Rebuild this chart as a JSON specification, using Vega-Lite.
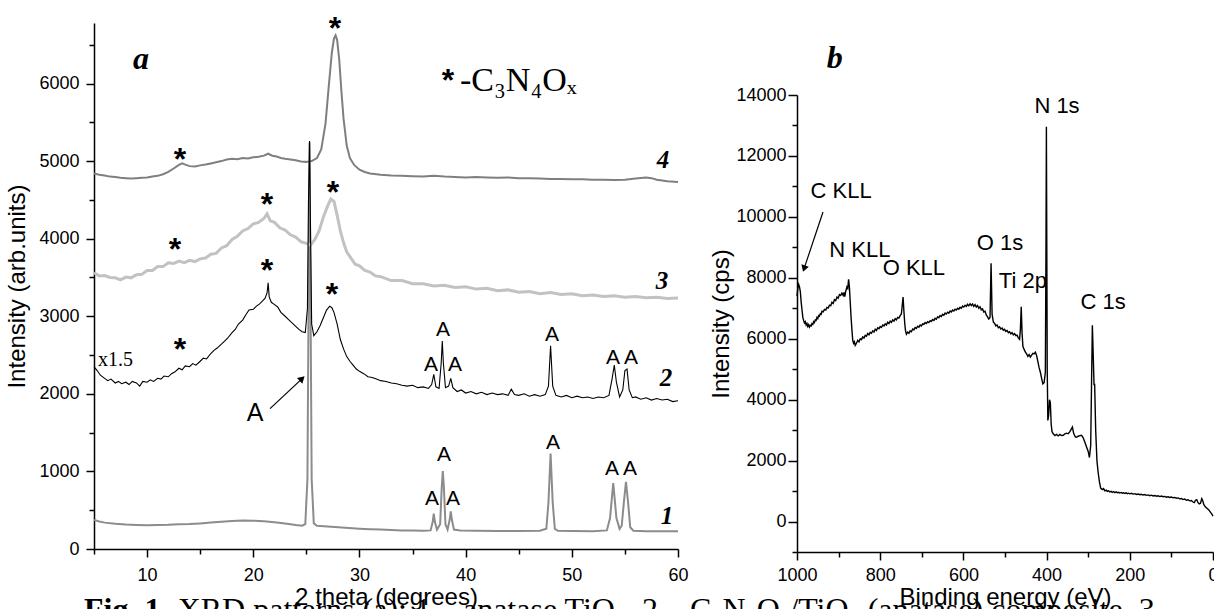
{
"$schema": "https://vega.github.io/schema/vega-lite/v6.json",
"background": "white",
"padding": {"left": 5, "top": 13, "right": 0, "bottom": 0},
"config": {
 "view": {"stroke": null},
 "axis": {"grid": false, "domainColor": "#000", "domainWidth": 1.5, "tickColor": "#000", "tickWidth": 1.5, "labelColor": "#000", "labelFont": "Liberation Sans", "labelFontSize": 18, "titleFont": "Liberation Sans", "titleFontSize": 24, "titleFontWeight": "normal", "titleColor": "#000", "labelFlush": false, "labelOverlap": false, "labelBound": false},
 "text": {"color": "#000"}
},
"datasets": {
 "c1": [{"x":5,"y":375},{"x":5.5,"y":355},{"x":6,"y":340},{"x":7,"y":325},{"x":8,"y":315},{"x":9,"y":310},{"x":10,"y":305},{"x":11,"y":310},{"x":12,"y":312},{"x":13,"y":318},{"x":14,"y":322},{"x":15,"y":330},{"x":16,"y":340},{"x":17,"y":352},{"x":18,"y":362},{"x":19,"y":368},{"x":20,"y":365},{"x":21,"y":358},{"x":22,"y":345},{"x":23,"y":330},{"x":24,"y":310},{"x":24.6,"y":300},{"x":24.9,"y":320},{"x":25.1,"y":900},{"x":25.2,"y":3000},{"x":25.3,"y":5240},{"x":25.4,"y":3000},{"x":25.5,"y":900},{"x":25.7,"y":330},{"x":26,"y":300},{"x":27,"y":290},{"x":28,"y":280},{"x":29,"y":270},{"x":30,"y":262},{"x":31,"y":255},{"x":32,"y":250},{"x":33,"y":245},{"x":34,"y":240},{"x":35,"y":238},{"x":36,"y":235},{"x":36.7,"y":240},{"x":36.9,"y":350},{"x":37.0,"y":455},{"x":37.1,"y":350},{"x":37.3,"y":250},{"x":37.6,"y":320},{"x":37.75,"y":800},{"x":37.85,"y":1006},{"x":37.95,"y":800},{"x":38.1,"y":320},{"x":38.3,"y":250},{"x":38.5,"y":380},{"x":38.6,"y":485},{"x":38.7,"y":380},{"x":38.9,"y":250},{"x":39.5,"y":238},{"x":41,"y":235},{"x":43,"y":233},{"x":45,"y":233},{"x":47,"y":235},{"x":47.6,"y":260},{"x":47.8,"y":600},{"x":48.0,"y":1230},{"x":48.2,"y":600},{"x":48.4,"y":260},{"x":48.7,"y":235},{"x":50,"y":232},{"x":52,"y":230},{"x":53.3,"y":240},{"x":53.6,"y":400},{"x":53.9,"y":850},{"x":54.2,"y":400},{"x":54.5,"y":260},{"x":54.7,"y":300},{"x":54.9,"y":600},{"x":55.1,"y":865},{"x":55.3,"y":600},{"x":55.5,"y":280},{"x":55.8,"y":235},{"x":57,"y":230},{"x":58,"y":230},{"x":60,"y":228}],
 "c2": [{"x":5.0,"y":2350},{"x":5.3,"y":2300},{"x":5.6,"y":2240},{"x":6.0,"y":2200},{"x":6.3,"y":2170},{"x":6.6,"y":2190},{"x":7.0,"y":2140},{"x":7.3,"y":2160},{"x":7.6,"y":2130},{"x":8.0,"y":2150},{"x":8.3,"y":2120},{"x":8.6,"y":2160},{"x":9.0,"y":2140},{"x":9.3,"y":2100},{"x":9.6,"y":2160},{"x":10.0,"y":2150},{"x":10.3,"y":2180},{"x":10.6,"y":2160},{"x":11.0,"y":2200},{"x":11.3,"y":2190},{"x":11.6,"y":2230},{"x":12.0,"y":2220},{"x":12.3,"y":2260},{"x":12.6,"y":2280},{"x":13.0,"y":2330},{"x":13.3,"y":2310},{"x":13.6,"y":2360},{"x":14.0,"y":2350},{"x":14.3,"y":2390},{"x":14.6,"y":2370},{"x":15.0,"y":2420},{"x":15.3,"y":2460},{"x":15.6,"y":2450},{"x":16.0,"y":2520},{"x":16.3,"y":2560},{"x":16.6,"y":2590},{"x":17.0,"y":2640},{"x":17.3,"y":2680},{"x":17.6,"y":2720},{"x":18.0,"y":2790},{"x":18.3,"y":2830},{"x":18.6,"y":2900},{"x":19.0,"y":2950},{"x":19.3,"y":3020},{"x":19.6,"y":3080},{"x":20.0,"y":3090},{"x":20.3,"y":3130},{"x":20.6,"y":3160},{"x":20.9,"y":3200},{"x":21.1,"y":3230},{"x":21.3,"y":3300},{"x":21.4,"y":3430},{"x":21.5,"y":3250},{"x":21.7,"y":3180},{"x":22.0,"y":3150},{"x":22.3,"y":3120},{"x":22.6,"y":3050},{"x":23.0,"y":3000},{"x":23.3,"y":2960},{"x":23.6,"y":2920},{"x":24.0,"y":2870},{"x":24.3,"y":2830},{"x":24.6,"y":2800},{"x":24.9,"y":2790},{"x":25.1,"y":3100},{"x":25.2,"y":4500},{"x":25.3,"y":5260},{"x":25.4,"y":4000},{"x":25.5,"y":2900},{"x":25.7,"y":2750},{"x":26.0,"y":2800},{"x":26.3,"y":2880},{"x":26.6,"y":2980},{"x":26.9,"y":3080},{"x":27.2,"y":3130},{"x":27.4,"y":3110},{"x":27.6,"y":3050},{"x":27.9,"y":2900},{"x":28.2,"y":2700},{"x":28.5,"y":2580},{"x":28.8,"y":2480},{"x":29.1,"y":2420},{"x":29.4,"y":2370},{"x":29.7,"y":2320},{"x":30.0,"y":2290},{"x":30.4,"y":2260},{"x":30.8,"y":2220},{"x":31.2,"y":2210},{"x":31.6,"y":2190},{"x":32.0,"y":2170},{"x":32.5,"y":2160},{"x":33.0,"y":2140},{"x":33.5,"y":2130},{"x":34.0,"y":2110},{"x":34.5,"y":2100},{"x":35.0,"y":2110},{"x":35.5,"y":2080},{"x":36.0,"y":2090},{"x":36.5,"y":2070},{"x":36.8,"y":2120},{"x":37.0,"y":2250},{"x":37.2,"y":2090},{"x":37.5,"y":2070},{"x":37.7,"y":2400},{"x":37.8,"y":2680},{"x":37.9,"y":2400},{"x":38.1,"y":2080},{"x":38.4,"y":2100},{"x":38.6,"y":2200},{"x":38.8,"y":2080},{"x":39.2,"y":2030},{"x":39.6,"y":2050},{"x":40.0,"y":2010},{"x":40.5,"y":2030},{"x":41.0,"y":2000},{"x":41.5,"y":2020},{"x":42.0,"y":1990},{"x":42.5,"y":2010},{"x":43.0,"y":1990},{"x":43.5,"y":2000},{"x":44.0,"y":1980},{"x":44.3,"y":2060},{"x":44.6,"y":1990},{"x":45.0,"y":1980},{"x":45.5,"y":2000},{"x":46.0,"y":1970},{"x":46.5,"y":1990},{"x":47.0,"y":1970},{"x":47.5,"y":1990},{"x":47.8,"y":2100},{"x":48.0,"y":2620},{"x":48.2,"y":2100},{"x":48.5,"y":1980},{"x":49.0,"y":1960},{"x":49.5,"y":1980},{"x":50.0,"y":1950},{"x":50.5,"y":1970},{"x":51.0,"y":1950},{"x":51.5,"y":1960},{"x":52.0,"y":1940},{"x":52.5,"y":1960},{"x":53.0,"y":1950},{"x":53.5,"y":1980},{"x":53.8,"y":2200},{"x":54.0,"y":2370},{"x":54.2,"y":2150},{"x":54.5,"y":1960},{"x":54.8,"y":2050},{"x":55.0,"y":2300},{"x":55.2,"y":2320},{"x":55.4,"y":2050},{"x":55.7,"y":1950},{"x":56.0,"y":1960},{"x":56.5,"y":1930},{"x":57.0,"y":1950},{"x":57.5,"y":1920},{"x":58.0,"y":1940},{"x":58.5,"y":1920},{"x":59.0,"y":1930},{"x":59.5,"y":1900},{"x":60.0,"y":1910}],
 "c3": [{"x":5.0,"y":3560},{"x":5.5,"y":3520},{"x":6.0,"y":3525},{"x":6.5,"y":3500},{"x":7.0,"y":3495},{"x":7.5,"y":3470},{"x":8.0,"y":3505},{"x":8.5,"y":3495},{"x":9.0,"y":3535},{"x":9.5,"y":3540},{"x":10.0,"y":3590},{"x":10.5,"y":3590},{"x":11.0,"y":3640},{"x":11.5,"y":3640},{"x":12.0,"y":3690},{"x":12.5,"y":3680},{"x":13.0,"y":3710},{"x":13.5,"y":3690},{"x":14.0,"y":3720},{"x":14.5,"y":3705},{"x":15.0,"y":3740},{"x":15.5,"y":3750},{"x":16.0,"y":3800},{"x":16.5,"y":3810},{"x":17.0,"y":3880},{"x":17.5,"y":3910},{"x":18.0,"y":3990},{"x":18.5,"y":4030},{"x":19.0,"y":4100},{"x":19.5,"y":4130},{"x":20.0,"y":4190},{"x":20.5,"y":4210},{"x":21.0,"y":4260},{"x":21.3,"y":4320},{"x":21.6,"y":4230},{"x":22.0,"y":4210},{"x":22.5,"y":4140},{"x":23.0,"y":4110},{"x":23.5,"y":4050},{"x":24.0,"y":4020},{"x":24.5,"y":3960},{"x":25.0,"y":3940},{"x":25.4,"y":3920},{"x":25.8,"y":3990},{"x":26.2,"y":4100},{"x":26.6,"y":4280},{"x":27.0,"y":4420},{"x":27.3,"y":4510},{"x":27.6,"y":4480},{"x":27.9,"y":4300},{"x":28.2,"y":4100},{"x":28.5,"y":3950},{"x":28.8,"y":3830},{"x":29.2,"y":3750},{"x":29.6,"y":3670},{"x":30.0,"y":3650},{"x":30.5,"y":3590},{"x":31.0,"y":3570},{"x":31.5,"y":3520},{"x":32.0,"y":3510},{"x":33.0,"y":3460},{"x":34.0,"y":3460},{"x":35.0,"y":3420},{"x":36.0,"y":3420},{"x":37.0,"y":3390},{"x":38.0,"y":3400},{"x":39.0,"y":3370},{"x":40.0,"y":3380},{"x":41.0,"y":3350},{"x":42.0,"y":3360},{"x":43.0,"y":3330},{"x":44.0,"y":3340},{"x":45.0,"y":3310},{"x":46.0,"y":3320},{"x":47.0,"y":3290},{"x":48.0,"y":3305},{"x":49.0,"y":3280},{"x":50.0,"y":3290},{"x":51.0,"y":3265},{"x":52.0,"y":3275},{"x":53.0,"y":3255},{"x":54.0,"y":3265},{"x":55.0,"y":3245},{"x":56.0,"y":3255},{"x":57.0,"y":3240},{"x":58.0,"y":3245},{"x":59.0,"y":3230},{"x":60.0,"y":3235}],
 "c4": [{"x":5.0,"y":4840},{"x":5.5,"y":4825},{"x":6.0,"y":4815},{"x":6.5,"y":4800},{"x":7.0,"y":4795},{"x":7.5,"y":4785},{"x":8.0,"y":4780},{"x":8.5,"y":4775},{"x":9.0,"y":4780},{"x":9.5,"y":4785},{"x":10.0,"y":4790},{"x":10.5,"y":4800},{"x":11.0,"y":4810},{"x":11.5,"y":4830},{"x":12.0,"y":4860},{"x":12.5,"y":4905},{"x":13.0,"y":4950},{"x":13.3,"y":4970},{"x":13.6,"y":4955},{"x":14.0,"y":4935},{"x":14.5,"y":4930},{"x":15.0,"y":4945},{"x":15.5,"y":4955},{"x":16.0,"y":4970},{"x":16.5,"y":4985},{"x":17.0,"y":5000},{"x":17.5,"y":5020},{"x":18.0,"y":5030},{"x":18.5,"y":5025},{"x":19.0,"y":5040},{"x":19.5,"y":5035},{"x":20.0,"y":5050},{"x":20.5,"y":5055},{"x":21.0,"y":5070},{"x":21.4,"y":5095},{"x":21.8,"y":5070},{"x":22.2,"y":5060},{"x":22.6,"y":5040},{"x":23.0,"y":5030},{"x":23.5,"y":5020},{"x":24.0,"y":5010},{"x":24.5,"y":4995},{"x":25.0,"y":4990},{"x":25.5,"y":5000},{"x":26.0,"y":5040},{"x":26.4,"y":5150},{"x":26.8,"y":5480},{"x":27.1,"y":5950},{"x":27.4,"y":6400},{"x":27.6,"y":6580},{"x":27.75,"y":6620},{"x":27.9,"y":6560},{"x":28.1,"y":6300},{"x":28.3,"y":5900},{"x":28.5,"y":5550},{"x":28.8,"y":5200},{"x":29.1,"y":5040},{"x":29.5,"y":4950},{"x":30.0,"y":4890},{"x":30.5,"y":4860},{"x":31.0,"y":4840},{"x":32.0,"y":4825},{"x":33.0,"y":4815},{"x":34.0,"y":4810},{"x":35.0,"y":4805},{"x":36.0,"y":4800},{"x":37.0,"y":4810},{"x":38.0,"y":4800},{"x":39.0,"y":4795},{"x":40.0,"y":4790},{"x":41.0,"y":4795},{"x":42.0,"y":4790},{"x":43.0,"y":4785},{"x":44.0,"y":4790},{"x":45.0,"y":4780},{"x":46.0,"y":4780},{"x":47.0,"y":4775},{"x":48.0,"y":4770},{"x":49.0,"y":4770},{"x":50.0,"y":4765},{"x":51.0,"y":4765},{"x":52.0,"y":4760},{"x":53.0,"y":4760},{"x":54.0,"y":4755},{"x":55.0,"y":4760},{"x":56.0,"y":4775},{"x":57.0,"y":4790},{"x":57.5,"y":4780},{"x":58.0,"y":4760},{"x":59.0,"y":4740},{"x":60.0,"y":4730}],
 "stars": [{"x":27.7,"y":6570},{"x":13.1,"y":4880},{"x":12.63,"y":3730},{"x":21.29,"y":4310},{"x":27.51,"y":4465},{"x":21.29,"y":3460},{"x":27.41,"y":3140},{"x":13.1,"y":2430}],
 "alab": [{"x":37.87,"y":2751},{"x":36.74,"y":2298},{"x":38.99,"y":2298},{"x":48.13,"y":2685},{"x":53.88,"y":2385},{"x":55.57,"y":2385},{"x":37.96,"y":1138},{"x":36.83,"y":573},{"x":38.81,"y":573},{"x":48.23,"y":1289},{"x":53.78,"y":958},{"x":55.48,"y":958}],
 "nums": [{"x":58.59,"y":4915,"t":"4"},{"x":58.5,"y":3355,"t":"3"},{"x":58.87,"y":2105,"t":"2"},{"x":58.97,"y":322,"t":"1"}],
 "xps": [{"E":1000,"v":7400},{"E":998,"v":7650},{"E":996,"v":7780},{"E":994,"v":7700},{"E":992,"v":7550},{"E":990,"v":7200},{"E":988,"v":6950},{"E":986,"v":6700},{"E":984,"v":6600},{"E":982,"v":6520},{"E":980,"v":6560},{"E":978,"v":6450},{"E":976,"v":6500},{"E":974,"v":6400},{"E":972,"v":6460},{"E":970,"v":6380},{"E":968,"v":6440},{"E":966,"v":6420},{"E":964,"v":6500},{"E":962,"v":6470},{"E":960,"v":6560},{"E":958,"v":6530},{"E":956,"v":6620},{"E":954,"v":6600},{"E":952,"v":6700},{"E":950,"v":6660},{"E":948,"v":6760},{"E":946,"v":6740},{"E":944,"v":6820},{"E":942,"v":6800},{"E":940,"v":6900},{"E":937,"v":6880},{"E":934,"v":6960},{"E":931,"v":6940},{"E":928,"v":7030},{"E":925,"v":7010},{"E":922,"v":7100},{"E":919,"v":7080},{"E":916,"v":7200},{"E":913,"v":7160},{"E":910,"v":7280},{"E":907,"v":7250},{"E":904,"v":7370},{"E":901,"v":7330},{"E":898,"v":7450},{"E":895,"v":7420},{"E":892,"v":7500},{"E":889,"v":7420},{"E":887,"v":7520},{"E":885,"v":7380},{"E":883,"v":7550},{"E":880,"v":7700},{"E":878,"v":7650},{"E":876,"v":7950},{"E":874,"v":7700},{"E":872,"v":7200},{"E":870,"v":6700},{"E":868,"v":6300},{"E":866,"v":5950},{"E":864,"v":5850},{"E":862,"v":5900},{"E":860,"v":5780},{"E":857,"v":5850},{"E":854,"v":5950},{"E":851,"v":5900},{"E":848,"v":6000},{"E":845,"v":5970},{"E":842,"v":6060},{"E":839,"v":6020},{"E":836,"v":6110},{"E":833,"v":6080},{"E":830,"v":6170},{"E":827,"v":6130},{"E":824,"v":6210},{"E":821,"v":6180},{"E":818,"v":6260},{"E":815,"v":6220},{"E":812,"v":6310},{"E":809,"v":6270},{"E":806,"v":6360},{"E":803,"v":6330},{"E":800,"v":6400},{"E":797,"v":6370},{"E":794,"v":6450},{"E":791,"v":6420},{"E":788,"v":6490},{"E":785,"v":6450},{"E":782,"v":6540},{"E":779,"v":6500},{"E":776,"v":6580},{"E":773,"v":6540},{"E":770,"v":6620},{"E":767,"v":6580},{"E":764,"v":6660},{"E":761,"v":6620},{"E":758,"v":6700},{"E":755,"v":6680},{"E":752,"v":6760},{"E":749,"v":6820},{"E":747,"v":7100},{"E":745,"v":7370},{"E":743,"v":6900},{"E":741,"v":6500},{"E":739,"v":6250},{"E":737,"v":6150},{"E":734,"v":6220},{"E":731,"v":6180},{"E":728,"v":6260},{"E":725,"v":6230},{"E":722,"v":6320},{"E":719,"v":6290},{"E":716,"v":6370},{"E":713,"v":6340},{"E":710,"v":6410},{"E":707,"v":6380},{"E":704,"v":6450},{"E":701,"v":6420},{"E":698,"v":6490},{"E":695,"v":6470},{"E":692,"v":6530},{"E":689,"v":6500},{"E":686,"v":6560},{"E":683,"v":6530},{"E":680,"v":6590},{"E":677,"v":6570},{"E":674,"v":6630},{"E":671,"v":6600},{"E":668,"v":6670},{"E":665,"v":6640},{"E":662,"v":6720},{"E":659,"v":6690},{"E":656,"v":6760},{"E":653,"v":6730},{"E":650,"v":6800},{"E":647,"v":6770},{"E":644,"v":6840},{"E":641,"v":6810},{"E":638,"v":6870},{"E":635,"v":6840},{"E":632,"v":6910},{"E":629,"v":6880},{"E":626,"v":6940},{"E":623,"v":6910},{"E":620,"v":6970},{"E":617,"v":6940},{"E":614,"v":7000},{"E":611,"v":6970},{"E":608,"v":7030},{"E":605,"v":7000},{"E":602,"v":7070},{"E":599,"v":7040},{"E":596,"v":7100},{"E":593,"v":7060},{"E":590,"v":7130},{"E":587,"v":7080},{"E":584,"v":7150},{"E":581,"v":7090},{"E":578,"v":7140},{"E":575,"v":7060},{"E":572,"v":7120},{"E":569,"v":7040},{"E":566,"v":7090},{"E":563,"v":7000},{"E":560,"v":7050},{"E":557,"v":6950},{"E":554,"v":6980},{"E":551,"v":6880},{"E":548,"v":6900},{"E":545,"v":6780},{"E":542,"v":6720},{"E":539,"v":6650},{"E":536,"v":6700},{"E":533.5,"v":8480},{"E":531,"v":6800},{"E":528,"v":6550},{"E":525,"v":6500},{"E":522,"v":6420},{"E":519,"v":6450},{"E":516,"v":6360},{"E":513,"v":6390},{"E":510,"v":6320},{"E":507,"v":6350},{"E":504,"v":6280},{"E":501,"v":6310},{"E":498,"v":6240},{"E":495,"v":6270},{"E":492,"v":6200},{"E":489,"v":6230},{"E":486,"v":6160},{"E":483,"v":6200},{"E":480,"v":6130},{"E":477,"v":6170},{"E":474,"v":6100},{"E":471,"v":6120},{"E":468,"v":6030},{"E":465,"v":5980},{"E":463,"v":6300},{"E":461,"v":7050},{"E":459,"v":6200},{"E":457,"v":5750},{"E":454,"v":5650},{"E":451,"v":5560},{"E":448,"v":5500},{"E":445,"v":5420},{"E":442,"v":5480},{"E":439,"v":5400},{"E":436,"v":5460},{"E":433,"v":5520},{"E":430,"v":5500},{"E":427,"v":5560},{"E":424,"v":5450},{"E":421,"v":5250},{"E":418,"v":5050},{"E":415,"v":4900},{"E":412,"v":4700},{"E":409,"v":4520},{"E":406,"v":4560},{"E":403,"v":4900},{"E":401.5,"v":9000},{"E":400.5,"v":12960},{"E":399.5,"v":9000},{"E":398.5,"v":5000},{"E":397,"v":3320},{"E":395,"v":3500},{"E":393,"v":4000},{"E":391,"v":3900},{"E":389,"v":3200},{"E":387,"v":2950},{"E":384,"v":2880},{"E":380,"v":2820},{"E":376,"v":2860},{"E":372,"v":2810},{"E":368,"v":2860},{"E":364,"v":2820},{"E":360,"v":2830},{"E":356,"v":2880},{"E":352,"v":2900},{"E":348,"v":2880},{"E":344,"v":2950},{"E":340,"v":3050},{"E":338,"v":3100},{"E":335,"v":2900},{"E":331,"v":2780},{"E":328,"v":2770},{"E":324,"v":2800},{"E":320,"v":2820},{"E":316,"v":2830},{"E":312,"v":2750},{"E":308,"v":2600},{"E":304,"v":2450},{"E":300,"v":2300},{"E":297,"v":2100},{"E":294,"v":2500},{"E":292,"v":4500},{"E":290,"v":6440},{"E":288,"v":5500},{"E":286,"v":4500},{"E":284.5,"v":4500},{"E":282,"v":3000},{"E":279,"v":2000},{"E":276,"v":1600},{"E":273,"v":1300},{"E":270,"v":1100},{"E":266,"v":1050},{"E":263,"v":1080},{"E":260,"v":1010},{"E":257,"v":1030},{"E":254,"v":990},{"E":251,"v":1010},{"E":248,"v":970},{"E":245,"v":990},{"E":242,"v":960},{"E":239,"v":985},{"E":236,"v":950},{"E":233,"v":975},{"E":230,"v":945},{"E":227,"v":960},{"E":224,"v":935},{"E":221,"v":955},{"E":218,"v":930},{"E":215,"v":945},{"E":212,"v":920},{"E":209,"v":940},{"E":206,"v":915},{"E":203,"v":930},{"E":200,"v":910},{"E":196,"v":925},{"E":192,"v":900},{"E":188,"v":915},{"E":184,"v":890},{"E":180,"v":905},{"E":176,"v":880},{"E":172,"v":895},{"E":168,"v":870},{"E":164,"v":885},{"E":160,"v":860},{"E":156,"v":875},{"E":152,"v":850},{"E":148,"v":865},{"E":144,"v":840},{"E":140,"v":855},{"E":136,"v":830},{"E":132,"v":845},{"E":128,"v":820},{"E":124,"v":835},{"E":120,"v":815},{"E":116,"v":825},{"E":112,"v":800},{"E":108,"v":815},{"E":104,"v":790},{"E":100,"v":805},{"E":96,"v":780},{"E":92,"v":790},{"E":88,"v":765},{"E":84,"v":775},{"E":80,"v":745},{"E":76,"v":755},{"E":72,"v":720},{"E":68,"v":740},{"E":64,"v":700},{"E":60,"v":715},{"E":56,"v":680},{"E":52,"v":690},{"E":48,"v":640},{"E":45,"v":620},{"E":42,"v":700},{"E":39,"v":720},{"E":36,"v":620},{"E":33,"v":580},{"E":30,"v":600},{"E":27,"v":750},{"E":25,"v":700},{"E":22,"v":550},{"E":18,"v":480},{"E":14,"v":430},{"E":10,"v":380},{"E":6,"v":300},{"E":3,"v":250},{"E":0,"v":180}],
 "blab": [{"E":375,"v":13639,"t":"N 1s"},{"E":894,"v":10849,"t":"C KLL"},{"E":849,"v":8913,"t":"N KLL"},{"E":719,"v":8322,"t":"O KLL"},{"E":512,"v":9143,"t":"O 1s"},{"E":457,"v":7896,"t":"Ti 2p"},{"E":264,"v":7207,"t":"C 1s"}]
},
"bounds": "flush",
"spacing": 119,
"hconcat": [
 {
  "width": 584, "height": 526,
  "encoding": {
   "x": {"field": "x", "type": "quantitative", "scale": {"domain": [5, 60], "nice": false, "zero": false},
     "axis": {"title": "2 theta (degrees)", "values": [5,10,15,20,25,30,35,40,45,50,55,60], "format": "d", "labelExpr": "datum.value % 10 === 0 ? datum.label : ''", "tickSize": {"condition": {"test": "datum.value % 10 === 0", "value": 8}, "value": 5}, "labelPadding": 9, "titlePadding": 1}},
   "y": {"field": "y", "type": "quantitative", "scale": {"domain": [0, 6780], "nice": false},
     "axis": {"title": "Intensity (arb.units)", "values": [0,500,1000,1500,2000,2500,3000,3500,4000,4500,5000,5500,6000,6500], "format": "d", "labelExpr": "datum.value % 1000 === 0 ? datum.label : ''", "tickSize": {"condition": {"test": "datum.value % 1000 === 0", "value": 8}, "value": 5}, "labelPadding": 7, "titlePadding": 9}}
  },
  "layer": [
   {"data": {"name": "c1"}, "mark": {"type": "line", "color": "#8c8c8c", "strokeWidth": 2}},
   {"data": {"name": "c3"}, "mark": {"type": "line", "color": "#c2c2c2", "strokeWidth": 3}},
   {"data": {"name": "c4"}, "mark": {"type": "line", "color": "#7f7f7f", "strokeWidth": 2}},
   {"data": {"name": "c2"}, "mark": {"type": "line", "color": "#000000", "strokeWidth": 1.1}},
   {"data": {"name": "stars"}, "mark": {"type": "text", "text": "*", "font": "Liberation Sans", "fontWeight": "bold", "fontSize": 32, "align": "center", "baseline": "alphabetic"}},
   {"data": {"name": "alab"}, "mark": {"type": "text", "text": "A", "font": "Liberation Sans", "fontSize": 21, "align": "center", "baseline": "alphabetic"}},
   {"data": {"values": [{"x": 20.16, "y": 1654}]}, "mark": {"type": "text", "text": "A", "font": "Liberation Sans", "fontSize": 25, "align": "center", "baseline": "alphabetic"}},
   {"data": {"values": [{"x": 21.58, "y": 1809, "x2": 24.6, "y2": 2196}]}, "mark": {"type": "rule", "color": "#000", "strokeWidth": 1.2}, "encoding": {"x2": {"field": "x2"}, "y2": {"field": "y2"}}},
   {"data": {"values": [{"x": 24.6, "y": 2196}]}, "mark": {"type": "point", "shape": "triangle-up", "filled": true, "color": "#000", "opacity": 1, "size": 60, "angle": 47}},
   {"data": {"name": "nums"}, "mark": {"type": "text", "font": "Liberation Serif", "fontStyle": "italic", "fontWeight": "bold", "fontSize": 25, "align": "center", "baseline": "alphabetic"}, "encoding": {"text": {"field": "t"}}},
   {"data": {"values": [{"x": 9.43, "y": 6191}]}, "mark": {"type": "text", "text": "a", "font": "Liberation Serif", "fontStyle": "italic", "fontWeight": "bold", "fontSize": 32, "align": "center", "baseline": "alphabetic"}},
   {"data": {"values": [{"x": 5.38, "y": 2363}]}, "mark": {"type": "text", "text": "x1.5", "font": "Liberation Serif", "fontSize": 20, "align": "left", "baseline": "alphabetic"}},
   {"data": {"values": [{"x": 38.34, "y": 5907}]}, "mark": {"type": "text", "text": "*", "font": "Liberation Sans", "fontWeight": "bold", "fontSize": 32, "align": "center", "baseline": "alphabetic"}},
   {"data": {"values": [{"x": 39.47, "y": 5907}]}, "mark": {"type": "text", "text": "-C₃N₄Oₓ", "font": "Liberation Serif", "fontSize": 34, "align": "left", "baseline": "alphabetic"}},
   {"data": {"values": [{"x": 4.06, "y": -911}]}, "mark": {"type": "text", "text": "Fig. 1.", "font": "Liberation Serif", "fontWeight": "bold", "fontSize": 32, "align": "left", "baseline": "alphabetic"}},
   {"data": {"values": [{"x": 12.88, "y": -911}]}, "mark": {"type": "text", "text": "XRD patterns (a): 1 – anatase TiO₂, 2 – C₃N₄Oₓ/TiO₂ (anatase) composite, 3 –", "font": "Liberation Serif", "fontSize": 32, "align": "left", "baseline": "alphabetic"}}
  ]
 },
 {
  "bounds": "flush",
  "spacing": 12,
  "vconcat": [
   {
    "width": 416, "height": 60,
    "data": {"values": [{"E": 909, "h": 15}]},
    "mark": {"type": "text", "text": "b", "font": "Liberation Serif", "fontStyle": "italic", "fontWeight": "bold", "fontSize": 32, "align": "center", "baseline": "alphabetic"},
    "encoding": {
     "x": {"field": "E", "type": "quantitative", "scale": {"domain": [0, 1000], "reverse": true}, "axis": null},
     "y": {"field": "h", "type": "quantitative", "scale": {"domain": [0, 60]}, "axis": null}
    }
   },
   {
    "width": 416, "height": 457,
    "encoding": {
     "x": {"field": "E", "type": "quantitative", "scale": {"domain": [0, 1000], "reverse": true, "nice": false},
       "axis": {"title": "Binding energy (eV)", "values": [0,100,200,300,400,500,600,700,800,900,1000], "format": "d", "labelExpr": "datum.value % 200 === 0 ? datum.label : ''", "tickSize": {"condition": {"test": "datum.value % 200 === 0", "value": 8}, "value": 5}, "labelPadding": 6, "titlePadding": 1}},
     "y": {"field": "v", "type": "quantitative", "scale": {"domain": [-1000, 14000], "nice": false, "zero": false},
       "axis": {"title": "Intensity (cps)", "values": [-1000,0,1000,2000,3000,4000,5000,6000,7000,8000,9000,10000,11000,12000,13000,14000], "format": "d", "labelExpr": "(datum.value % 2000 === 0 && datum.value >= 0) ? datum.label : ''", "tickSize": {"condition": {"test": "datum.value % 2000 === 0", "value": 9}, "value": 5}, "labelPadding": 2, "titlePadding": 2}}
    },
    "layer": [
     {"data": {"name": "xps"}, "mark": {"type": "line", "color": "#000", "strokeWidth": 1.4}},
     {"data": {"name": "blab"}, "mark": {"type": "text", "font": "Liberation Sans", "fontSize": 22, "align": "center", "baseline": "middle"}, "encoding": {"text": {"field": "t"}}},
     {"data": {"values": [{"E": 937.5, "v": 10160, "E2": 983, "v2": 8300}]}, "mark": {"type": "rule", "color": "#000", "strokeWidth": 1.2}, "encoding": {"x2": {"field": "E2"}, "y2": {"field": "v2"}}},
     {"data": {"values": [{"E": 983, "v": 8300}]}, "mark": {"type": "point", "shape": "triangle-up", "filled": true, "color": "#000", "opacity": 1, "size": 60, "angle": 198}}
    ]
   }
  ]
 }
]
}
